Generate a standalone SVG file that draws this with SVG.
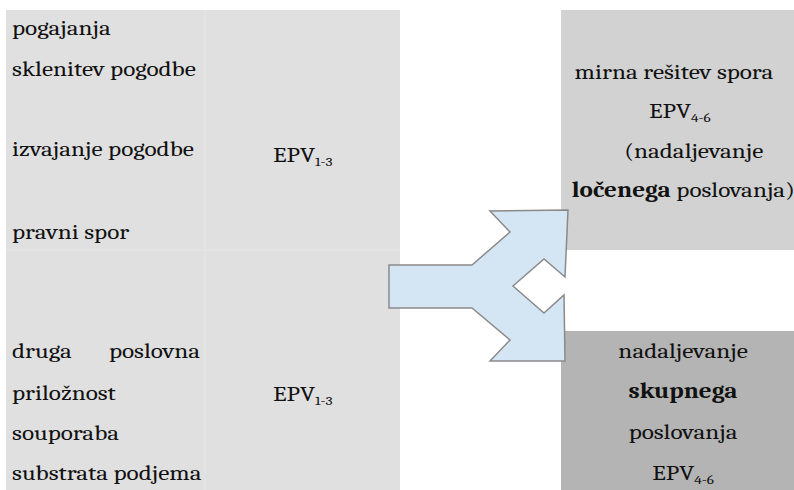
<svg xmlns="http://www.w3.org/2000/svg" width="794" height="490" viewBox="0 0 794 490">
<style>
.t{font-size:21.5px;fill:#111}
.c{text-anchor:middle}
.sub{font-size:13px}
.b{font-weight:bold}
</style>
<rect width="794" height="490" fill="#ffffff"/>
<g id="left-panel">
<rect x="6" y="10" width="394" height="480" fill="#e0e0e0"/>
<line x1="205" y1="10" x2="205" y2="490" stroke="#e7e7e7" stroke-width="1"/>
<line x1="6" y1="250" x2="400" y2="250" stroke="#e7e7e7" stroke-width="1"/>
</g>
<g id="box-mirna-bg"><rect x="561" y="10" width="233" height="240" fill="#d2d2d2"/></g>
<g id="box-skupno-bg"><rect x="561" y="331" width="233" height="159" fill="#b4b4b4"/></g>
<g font-family="Caladea, 'Liberation Serif', serif" transform="scale(1.17,1)">
<g id="cell-top-left">
<text class="t" x="10.3" y="76" dy="-41">pogajanja</text>
<text class="t" x="10.3" y="76">sklenitev pogodbe</text>
<text class="t" x="10.3" y="156">izvajanje pogodbe</text>
<text class="t" x="10.3" y="239">pravni spor</text>
</g>
<g id="cell-top-right">
<text class="t" x="233.3" y="162">EPV<tspan class="sub" dy="4">1-3</tspan></text>
</g>
<g id="cell-bottom-left">
<text class="t" x="10.3" y="358">druga</text>
<text class="t" x="171" y="358" text-anchor="end">poslovna</text>
<text class="t" x="10.3" y="400">priložnost</text>
<text class="t" x="10.3" y="440">souporaba</text>
<text class="t" x="10.3" y="480">substrata podjema</text>
</g>
<g id="cell-bottom-right">
<text class="t" x="233.3" y="401">EPV<tspan class="sub" dy="4">1-3</tspan></text>
</g>
<g id="box-mirna">
<text class="t c" x="576" y="79">mirna rešitev spora</text>
<text class="t c" x="581" y="118">EPV<tspan class="sub" dy="4">4-6</tspan></text>
<text class="t c" x="593" y="158">(nadaljevanje</text>
<text class="t c" x="584" y="197"><tspan class="b">ločenega</tspan> poslovanja)</text>
</g>
<g id="box-skupno">
<text class="t c" x="583.8" y="358">nadaljevanje</text>
<text class="t c b" x="583.8" y="398">skupnega</text>
<text class="t c" x="583.8" y="439">poslovanja</text>
<text class="t c" x="583.8" y="480">EPV<tspan class="sub" dy="4">4-6</tspan></text>
</g>
</g>
<g id="connectors">
<path d="M389,265 L472,265 L510,232 L490,211 L568,210 L565,277 L544,259 L513,286 L544,313 L564,295 L565,361 L490,361 L510,340 L472,308 L389,308 Z" fill="#d4e6f4" stroke="#8a8a8a" stroke-width="1.5" stroke-linejoin="miter"/>
</g>
</svg>
